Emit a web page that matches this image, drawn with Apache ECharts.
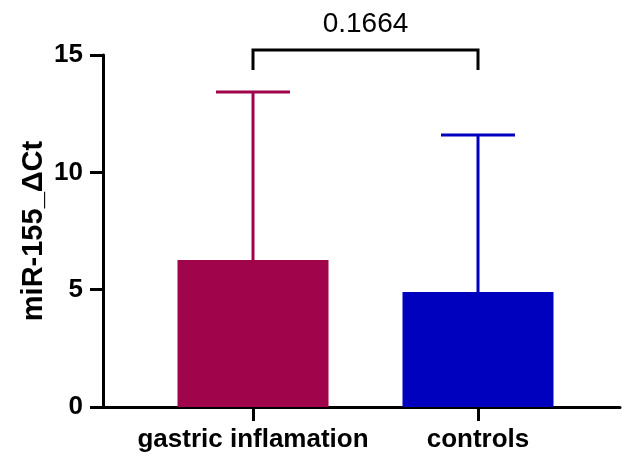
<!DOCTYPE html>
<html>
<head>
<meta charset="utf-8">
<script src="https://cdn.jsdelivr.net/npm/echarts@6/dist/echarts.min.js"></script>
<style>
  html, body { margin: 0; padding: 0; background: #fff; }
  #chart { width: 622px; height: 455px; }
</style>
</head>
<body>
<div id="chart"></div>
<script>
// groups, means and upper error bar (mean + SD)
const categories = ['gastric inflamation', 'controls']
const means = [6.26, 4.9]
const upper = [13.42, 11.59]
const colors = ['#A0054B', '#0000BF']
const yTicks = [0, 5, 10, 15]
const pValue = '0.1664'

const chart = echarts.init(document.getElementById('chart'))

chart.setOption({
  animation: false,
  grid: { left: 103, right: 2, top: 55, bottom: 48, outerBoundsMode: 'none' },
  xAxis: {
    type: 'value',
    min: -0.6667,
    max: 1.6311,
    splitLine: { show: false },
    axisLine: { onZero: false, lineStyle: { color: '#000', width: 3 } },
    axisTick: {
      customValues: [0, 1],
      length: 14,
      lineStyle: { color: '#000', width: 3 }
    },
    axisLabel: {
      customValues: [0, 1],
      margin: 20,
      color: '#000',
      fontFamily: 'Liberation Sans, Arial, sans-serif',
      fontWeight: 'bold',
      fontSize: 26,
      formatter: v => categories[Math.round(v)]
    }
  },
  yAxis: {
    type: 'value',
    min: yTicks[0],
    max: yTicks[yTicks.length - 1],
    interval: 5,
    name: 'miR-155_ΔCt',
    nameLocation: 'middle',
    nameRotate: 90,
    nameMoveOverlap: false,
    nameGap: 55,
    nameTextStyle: {
      color: '#000',
      fontFamily: 'Liberation Sans, Arial, sans-serif',
      fontWeight: 'bold',
      fontSize: 29
    },
    splitLine: { show: false },
    axisLine: { show: true, onZero: false, lineStyle: { color: '#000', width: 3 } },
    axisTick: { show: true, length: 13, lineStyle: { color: '#000', width: 3 } },
    axisLabel: {
      margin: 20,
      color: '#000',
      fontFamily: 'Liberation Sans, Arial, sans-serif',
      fontWeight: 'bold',
      fontSize: 26
    }
  },
  series: [
    {
      type: 'bar',
      barWidth: 151,
      z: 2,
      data: means.map((m, i) => ({ value: [i, m], itemStyle: { color: colors[i] } }))
    },
    {
      // error bars, upward only
      type: 'custom',
      z: 1,
      data: upper.map((u, i) => [i, means[i], u]),
      renderItem: (params, api) => {
        const i = api.value(0)
        const base = api.coord([i, api.value(1)])
        const top = api.coord([i, api.value(2)])
        const style = { stroke: colors[i], lineWidth: 3 }
        return {
          type: 'group',
          children: [
            { type: 'line', shape: { x1: base[0], y1: base[1], x2: top[0], y2: top[1] }, style },
            { type: 'line', shape: { x1: top[0] - 37, y1: top[1], x2: top[0] + 37, y2: top[1] }, style }
          ]
        }
      }
    },
    {
      // significance bracket
      type: 'custom',
      clip: false,
      data: [[0, 1]],
      renderItem: (params, api) => {
        const ymax = yTicks[yTicks.length - 1]
        const a = api.coord([api.value(0), ymax])
        const b = api.coord([api.value(1), ymax])
        const low = a[1] + 15
        const high = a[1] - 5
        return {
          type: 'group',
          children: [
            {
              type: 'polyline',
              shape: { points: [[a[0], low], [a[0], high], [b[0], high], [b[0], low]] },
              style: { stroke: '#000', lineWidth: 3, fill: null }
            },
            {
              type: 'text',
              style: {
                text: pValue,
                x: (a[0] + b[0]) / 2,
                y: high - 12,
                align: 'center',
                verticalAlign: 'bottom',
                fill: '#000',
                fontFamily: 'Liberation Sans, Arial, sans-serif',
                fontSize: 28
              }
            }
          ]
        }
      }
    }
  ]
})
</script>
</body>
</html>
